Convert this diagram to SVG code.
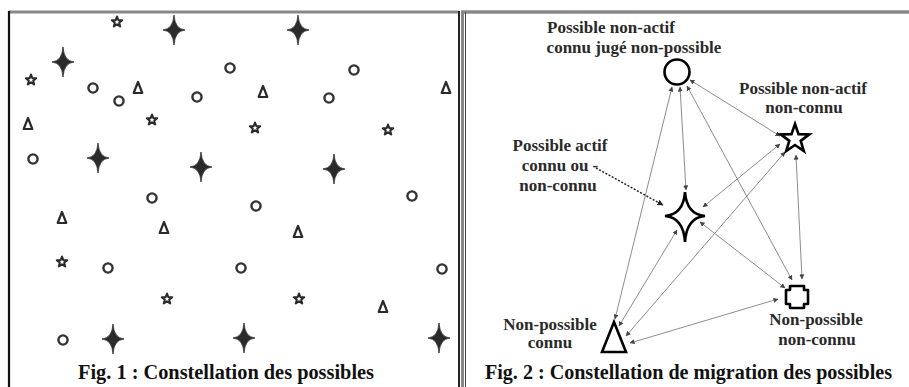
<svg xmlns="http://www.w3.org/2000/svg" width="909" height="387" viewBox="0 0 909 387">
<style>
.lbl{font-family:"Liberation Serif","Times New Roman",serif;font-weight:bold;font-size:17px;fill:#2a2a2a;text-anchor:middle}
.ttl{font-family:"Liberation Serif","Times New Roman",serif;font-weight:bold;font-size:20px;fill:#111}
.edge{stroke:#808080;stroke-width:0.9;fill:none;marker-start:url(#ah);marker-end:url(#ah)}
.node{fill:#fff;stroke:#000;stroke-width:2.6}
.sst{fill:#fff;stroke:#2a2a2a;stroke-width:2;stroke-linejoin:round}
.sci{fill:#fff;stroke:#333;stroke-width:2.4}
.str{fill:#fff;stroke:#2a2a2a;stroke-width:2.2;stroke-linejoin:round}
.ssp{fill:#2a2a2a}
</style>
<defs>
<marker id="ah" viewBox="0 0 6 6" refX="5.5" refY="3" markerWidth="5" markerHeight="5" markerUnits="userSpaceOnUse" orient="auto-start-reverse">
<path d="M0,0 L6,3 L0,6 Z" fill="#444"/>
</marker>
<marker id="ahd" viewBox="0 0 6 6" refX="5.5" refY="3" markerWidth="6" markerHeight="6" markerUnits="userSpaceOnUse" orient="auto">
<path d="M0,0 L6,3 L0,6 Z" fill="#222"/>
</marker>
<path id="st" class="sst" d="M0,-5.5 L1.35,-1.86 L5.23,-1.7 L2.19,0.71 L3.23,4.45 L0,2.3 L-3.23,4.45 L-2.19,0.71 L-5.23,-1.7 L-1.35,-1.86Z"/>
<circle id="ci" class="sci" r="4.6"/>
<path id="tr" class="str" d="M0,-6 L4.3,5 L-4.3,5 Z"/>
<path id="sp" class="ssp" d="M0,-15 Q0.9,-0.9 11,0 Q0.9,0.9 0,15 Q-0.9,0.9 -11,0 Q-0.9,-0.9 0,-15Z" stroke="#2a2a2a" stroke-width="0.8"/>
</defs>
<rect width="909" height="387" fill="#fff"/>

<g id="frames">
<line x1="9" y1="12" x2="459" y2="12" stroke="#888" stroke-width="3"/>
<line x1="9" y1="11" x2="9" y2="387" stroke="#111" stroke-width="2.2"/>
<line x1="459" y1="11" x2="459" y2="387" stroke="#222" stroke-width="2"/>
<line x1="461" y1="12" x2="909" y2="12" stroke="#888" stroke-width="3.5"/>
<line x1="462.5" y1="11" x2="462.5" y2="387" stroke="#888" stroke-width="3"/>
<line x1="465.5" y1="12" x2="465.5" y2="387" stroke="#444" stroke-width="1"/>
</g>

<g id="fig1">
<use href="#st" x="117" y="22"/>
<use href="#sp" x="174" y="30"/>
<use href="#sp" x="298" y="30"/>
<use href="#sp" x="63" y="62"/>
<use href="#st" x="31" y="80"/>
<use href="#ci" x="93" y="88"/>
<use href="#tr" x="138" y="88"/>
<use href="#ci" x="119" y="101"/>
<use href="#ci" x="197" y="97"/>
<use href="#ci" x="230" y="68"/>
<use href="#tr" x="263" y="92"/>
<use href="#ci" x="354" y="70"/>
<use href="#ci" x="329" y="98"/>
<use href="#tr" x="446" y="88"/>
<use href="#st" x="255" y="128"/>
<use href="#st" x="388" y="130"/>
<use href="#sp" x="334" y="169"/>
<use href="#tr" x="28" y="124"/>
<use href="#st" x="152" y="120"/>
<use href="#ci" x="33" y="159"/>
<use href="#sp" x="98" y="158"/>
<use href="#sp" x="201" y="167"/>
<use href="#ci" x="152" y="198"/>
<use href="#ci" x="412" y="196"/>
<use href="#ci" x="256" y="206"/>
<use href="#tr" x="62" y="218"/>
<use href="#tr" x="164" y="228"/>
<use href="#tr" x="298" y="232"/>
<use href="#st" x="62" y="262"/>
<use href="#ci" x="108" y="268"/>
<use href="#ci" x="241" y="268"/>
<use href="#ci" x="442" y="269"/>
<use href="#st" x="167" y="299"/>
<use href="#st" x="299" y="299"/>
<use href="#tr" x="383" y="307"/>
<use href="#ci" x="63" y="340"/>
<use href="#sp" x="113" y="339"/>
<use href="#sp" x="244" y="338"/>
<use href="#sp" x="439" y="338"/>
<text class="ttl" x="78" y="379" textLength="296" lengthAdjust="spacingAndGlyphs">Fig. 1 : Constellation des possibles</text>
</g>

<g id="connectors">
<line class="edge" x1="672" y1="87" x2="615" y2="319"/>
<line class="edge" x1="680" y1="87" x2="686" y2="190"/>
<line class="edge" x1="687" y1="86" x2="792" y2="280"/>
<line class="edge" x1="690" y1="80" x2="780" y2="136"/>
<line class="edge" x1="780" y1="144" x2="703" y2="207"/>
<line class="edge" x1="785" y1="152" x2="626" y2="336"/>
<line class="edge" x1="796" y1="155" x2="802" y2="279"/>
<line class="edge" x1="700" y1="222" x2="785" y2="288"/>
<line class="edge" x1="677" y1="230" x2="619" y2="326"/>
<line class="edge" x1="778" y1="299" x2="630" y2="343"/>
<line x1="596" y1="168" x2="663" y2="205" stroke="#222" stroke-width="1.5" stroke-dasharray="2,1.6" marker-end="url(#ahd)"/>
</g>

<g id="node-circle">
<circle class="node" cx="677" cy="72" r="12.5" stroke-width="3"/>
<text class="lbl" x="611" y="33">Possible non-actif</text>
<text class="lbl" x="634" y="53">connu jugé non-possible</text>
</g>
<g id="node-star">
<path class="node" stroke-linejoin="miter" d="M795,124 L798.53,134.15 L809.27,134.36 L800.71,140.85 L803.82,151.14 L795,145 L786.18,151.14 L789.29,140.85 L780.73,134.36 L791.47,134.15Z"/>
<text class="lbl" x="803" y="94">Possible non-actif</text>
<text class="lbl" x="804" y="113">non-connu</text>
</g>
<g id="node-sparkle">
<path class="node" stroke-width="2" d="M685,192 Q686.6,214.4 705,216 Q686.6,217.6 685,242 Q683.4,217.6 665,216 Q683.4,214.4 685,192Z"/>
<text class="lbl" x="560" y="151">Possible actif</text>
<text class="lbl" x="560" y="171">connu ou -</text>
<text class="lbl" x="558" y="191">non-connu</text>
</g>
<g id="node-cross">
<path class="node" stroke-width="3" stroke-linejoin="round" d="M790,286 h14 v4 h4 v14 h-4 v4 h-14 v-4 h-4 v-14 h4 Z"/>
<text class="lbl" x="816" y="325">Non-possible</text>
<text class="lbl" x="817" y="345">non-connu</text>
</g>
<g id="node-triangle">
<path class="node" stroke-width="3" d="M614,322 L626,352 L602,352 Z"/>
<text class="lbl" x="550" y="330">Non-possible</text>
<text class="lbl" x="550" y="348">connu</text>
</g>
<text class="ttl" x="485" y="379" textLength="407" lengthAdjust="spacingAndGlyphs">Fig. 2 : Constellation de migration des possibles</text>
</svg>
